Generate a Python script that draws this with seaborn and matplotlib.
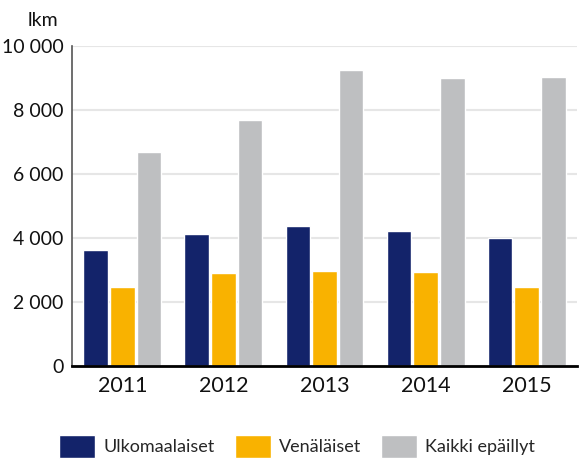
import pandas as pd
import seaborn as sns
import matplotlib.pyplot as plt
from matplotlib.ticker import FuncFormatter, FixedLocator

# データ
vuodet = ["2011", "2012", "2013", "2014", "2015"]
ulkomaalaiset = [3630, 4130, 4380, 4230, 4000]
venalaiset = [2480, 2910, 2980, 2950, 2480]
kaikki = [6700, 7700, 9250, 9010, 9040]
sarjat = ["Ulkomaalaiset", "Venäläiset", "Kaikki epäillyt"]
varit = ["#13236a", "#f9b200", "#bebfc1"]

df = pd.DataFrame({
    "vuosi": vuodet * 3,
    "lkm": ulkomaalaiset + venalaiset + kaikki,
    "ryhma": [s for s in sarjat for _ in vuodet],
})

sns.set_style("white")
plt.rcParams["font.family"] = ["Lato", "DejaVu Sans"]

fig = plt.figure(figsize=(5.8, 4.59), dpi=100)
ax = fig.add_axes([0.124, 0.2026, 0.871, 0.697])

sns.barplot(data=df, x="vuosi", y="lkm", hue="ryhma", palette=varit,
            width=0.79, gap=0.07, saturation=1, ax=ax, legend=True)

ax.set_ylim(0, 10000)
ax.set_xlim(-0.5, 4.5)
ax.set_yticks(range(0, 10001, 2000))
ax.yaxis.set_major_formatter(FuncFormatter(lambda v, p: f"{int(v):,}".replace(",", " ")))
ax.grid(axis="y", color="#e6e6e6", linewidth=1.5)
ax.set_axisbelow(True)
ax.set_xlabel("")
ax.set_ylabel("")

for s in ["top", "right"]:
    ax.spines[s].set_visible(False)
ax.spines["left"].set_color("#555555")
ax.spines["left"].set_linewidth(1.2)
ax.spines["bottom"].set_color("black")
ax.spines["bottom"].set_linewidth(2)

ax.tick_params(axis="y", length=0, labelsize=14, pad=6, labelcolor="#111111")
ax.tick_params(axis="x", which="major", length=0, labelsize=15.5, pad=7, labelcolor="#111111")
ax.xaxis.set_minor_locator(FixedLocator([-0.5, 0.5, 1.5, 2.5, 3.5, 4.5]))
ax.tick_params(axis="x", which="minor", direction="in", length=5, width=1.2, color="black")

fig.text(0.048, 0.955, "lkm", fontsize=14, ha="left", va="center", color="#111111")

handles, labels = ax.get_legend_handles_labels()
ax.legend(handles, labels, loc="upper left", bbox_to_anchor=(0.102, 0.052),
          bbox_transform=fig.transFigure, ncol=3, frameon=False, fontsize=13,
          handlelength=2.0, handleheight=1.55, handletextpad=0.45, columnspacing=1.1,
          borderaxespad=0, borderpad=0)

fig.savefig("out.png", dpi=100)
